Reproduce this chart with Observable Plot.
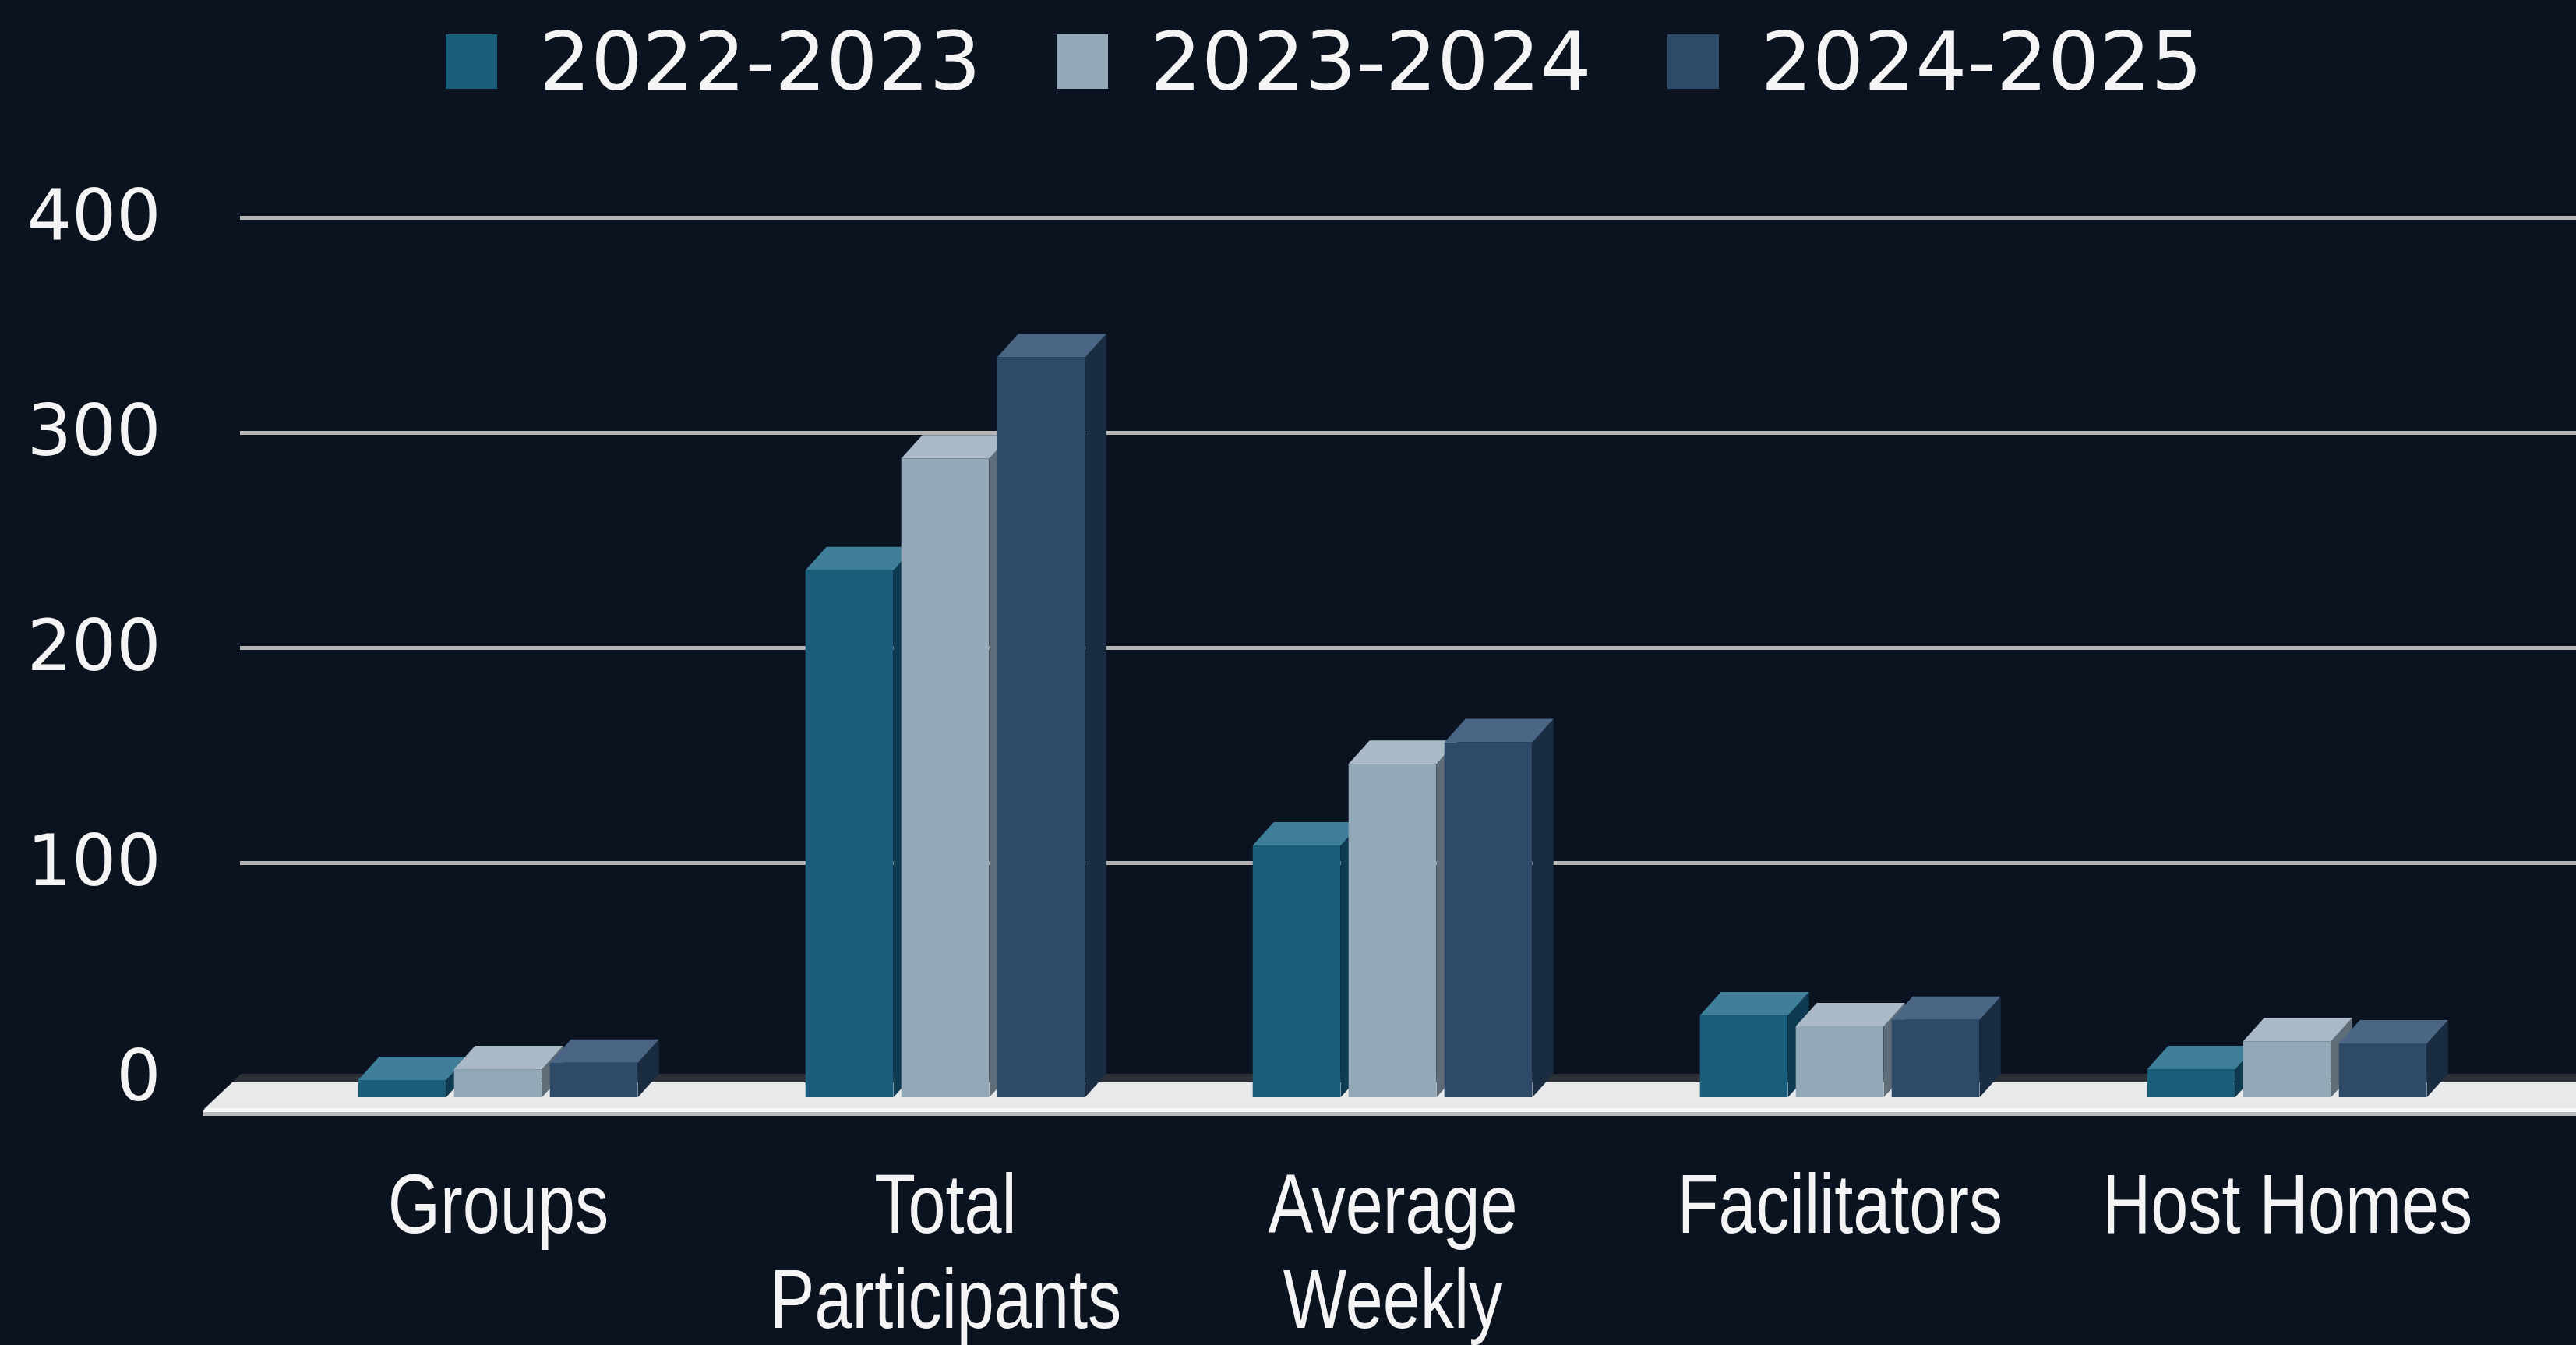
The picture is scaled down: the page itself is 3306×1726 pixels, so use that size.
<!DOCTYPE html>
<html><head><meta charset="utf-8">
<script src="https://cdn.jsdelivr.net/npm/d3@7"></script>
<script src="https://cdn.jsdelivr.net/npm/@observablehq/plot@0.6"></script>
<style>
html,body{margin:0;padding:0;background:#0b1220;}
body{width:3306px;height:1726px;overflow:hidden;}
#legend{height:200px;position:relative;}
#legend .row{display:flex;align-items:center;height:158px;padding-left:572px;font-family:"DejaVu Sans",Verdana,sans-serif;font-size:104px;color:#f4f4f4;line-height:1;}
#legend .item{display:flex;align-items:center;margin-right:97px;}
#legend .sw{width:66px;height:70px;margin-right:54px;}
#chart svg{display:block;}
</style></head><body>
<div id="legend"><div class="row"></div></div>
<div id="chart"></div>
<script>
const categories = ["Groups", "Total Participants", "Average Weekly", "Facilitators", "Host Homes"];
const seriesNames = ["2022-2023", "2023-2024", "2024-2025"];
const values2022 = [8, 245, 117, 38, 13];
const values2023 = [13, 297, 155, 33, 26];
const values2024 = [16, 344, 165, 36, 25];
const yTicks = [0, 100, 200, 300, 400];
const gridTicks = [100, 200, 300, 400];
const labelLines = {"Total Participants": "Total\nParticipants", "Average Weekly": "Average\nWeekly"};

const frontColors = ["#1a5e7c", "#93a9b8", "#2d4a68"];
const topColors = ["#3f7f9a", "#aabbc7", "#4b6684"];
const sideColors = ["#0e3a52", "#5f6d79", "#1a2c41"];

const seriesValues = [values2022, values2023, values2024];
const rows = [];
seriesValues.forEach((vals, si) => vals.forEach((v, ci) => rows.push({category: categories[ci], series: seriesNames[si], value: v})));

// layout
const W = 3306, H = 1526;
const xRange = [351, 3223];
const bw = (xRange[1] - xRange[0]) / categories.length;
const BAR_W = 113, BAR_STEP = 123, DEPTH_X = 27, DEPTH_Y = 30, FRONT_DY = 25;
const LABEL_SCALE_X = 0.8;
const barOffset = i => bw / 2 - (2 * BAR_STEP + BAR_W) / 2 + i * BAR_STEP;

// legend
const row = d3.select("#legend .row");
seriesNames.forEach((s, i) => {
  const it = row.append("div").attr("class", "item");
  it.append("div").attr("class", "sw").style("background", frontColors[i]);
  it.append("span").text(s);
});

// floor slab under the bars
function floorMark(index, scales, values, dims) {
  const sy = scales.y;
  const y0 = sy(0);
  const left = dims.marginLeft, right = dims.width;
  const g = d3.create("svg:g");
  const poly = (pts, fill) => g.append("polygon").attr("points", pts.map(p => p.join(",")).join(" ")).attr("fill", fill);
  poly([[left + 1, y0 - 5], [right, y0 - 5], [right, y0 + 6], [left - 10, y0 + 6]], "#2c3037");
  poly([[left - 10, y0 + 6], [right, y0 + 6], [right, y0 + 39], [left - 45, y0 + 39]], "#e8e9ea");
  poly([[left - 45, y0 + 39], [right, y0 + 39], [right, y0 + 44], [left - 48, y0 + 44]], "#f8f8f8");
  poly([[left - 48, y0 + 44], [right, y0 + 44], [right, y0 + 49], [left - 48, y0 + 49]], "#b9bcbf");
  return g.node();
}

// top and side faces of the 3D columns
function faceMark(index, scales) {
  const sx = scales.x, sy = scales.y;
  const g = d3.create("svg:g");
  const poly = (pts, fill) => g.append("polygon").attr("points", pts.map(p => p.join(",")).join(" ")).attr("fill", fill);
  categories.forEach((c, ci) => {
    seriesValues.forEach((vals, si) => {
      const x0 = sx(c) + barOffset(si), x1 = x0 + BAR_W;
      const yT = sy(vals[ci]) + FRONT_DY, yB = sy(0) + FRONT_DY;
      poly([[x1, yT], [x1 + DEPTH_X, yT - DEPTH_Y], [x1 + DEPTH_X, yB - DEPTH_Y], [x1, yB]], sideColors[si]);
      poly([[x0, yT], [x1, yT], [x1 + DEPTH_X, yT - DEPTH_Y], [x0 + DEPTH_X, yT - DEPTH_Y]], topColors[si]);
    });
  });
  return g.node();
}

const fronts = seriesNames.map((s, i) => Plot.barY(rows.filter(r => r.series === s), {
  x: "category", y: "value", fill: frontColors[i],
  insetLeft: barOffset(i), insetRight: bw - barOffset(i) - BAR_W, dy: FRONT_DY
}));

const chart = Plot.plot({
  width: W, height: H,
  marginLeft: 308, marginRight: 0, marginTop: 79, marginBottom: 343,
  x: {domain: categories, range: xRange, padding: 0, label: null},
  y: {domain: [0, 400], label: null},
  style: {background: "#0b1220", color: "#f4f4f4", overflow: "visible"},
  marks: [
    floorMark,
    Plot.ruleY(gridTicks, {stroke: "#b4b4b4", strokeWidth: 5}),
    Plot.axisY({ticks: yTicks, tickSize: 0, tickPadding: 102, fontSize: 90, fontFamily: "DejaVu Sans, Verdana, sans-serif", label: null}),
    Plot.axisX({tickSize: 0, tickPadding: 112, fontSize: 108, lineHeight: 1.13,
      fontFamily: "Liberation Sans, Arial, sans-serif",
      tickFormat: d => labelLines[d] ?? d, label: null}),
    faceMark,
    ...fronts
  ]
});
document.getElementById("chart").appendChild(chart);

// condense the category labels horizontally (narrow face look)
const flatLabels = new Set(categories.map(c => (labelLines[c] ?? c).replace(/\n/g, "")));
d3.select(chart).selectAll("text").filter(function () { return flatLabels.has(this.textContent); }).each(function () {
  const t = d3.select(this);
  const tr = t.attr("transform");
  if (tr && /translate/.test(tr)) {
    t.attr("transform", tr + ` scale(${LABEL_SCALE_X},1)`);
  } else {
    const x = +t.attr("x") || 0;
    t.attr("transform", `translate(${x},0) scale(${LABEL_SCALE_X},1) translate(${-x},0)`);
  }
});
</script>
</body></html>
